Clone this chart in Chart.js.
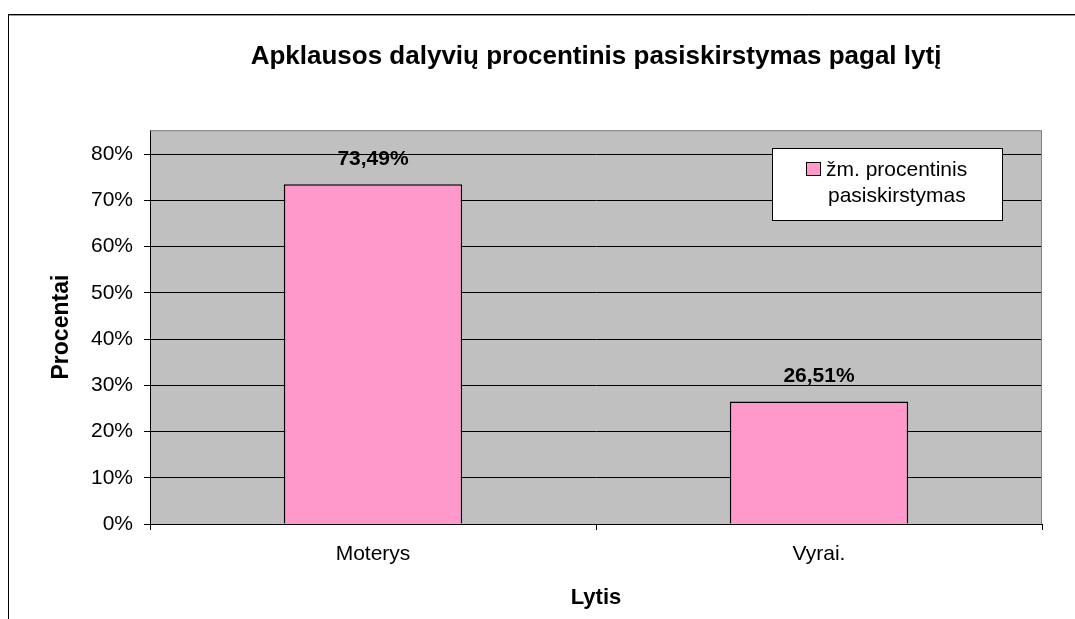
<!DOCTYPE html>
<html>
<head>
<meta charset="utf-8">
<script src="https://cdn.jsdelivr.net/npm/chart.js@4/dist/chart.umd.min.js"></script>
<style>
  body { margin: 0; background: #fff; }
  #wrap { width: 1075px; height: 619px; }
</style>
</head>
<body>
<div id="wrap"><canvas id="genderChart"></canvas></div>
<script>
const categories = ['Moterys', 'Vyrai.'];
const percents = [73.49, 26.51];
const valueLabels = ['73,49%', '26,51%'];
const legendLines = ['žm. procentinis', 'pasiskirstymas'];
const yTicks = [0, 10, 20, 30, 40, 50, 60, 70, 80];

const FONT = 'Arial, "Liberation Sans", sans-serif';

// white page, outer frame, grey plot area
const backdrop = {
    id: 'backdrop',
    beforeDraw(chart) {
        const { ctx, chartArea: a } = chart;
        ctx.save();
        ctx.fillStyle = '#fff';
        ctx.fillRect(0, 0, chart.width, chart.height);
        ctx.strokeStyle = '#000';
        ctx.lineWidth = 1;
        ctx.strokeRect(8.5, 14.5, chart.width + 20, chart.height + 20);
        ctx.strokeStyle = '#9a9a9a';
        ctx.beginPath();
        ctx.moveTo(9, 15.5);
        ctx.lineTo(chart.width, 15.5);
        ctx.stroke();
        ctx.fillStyle = '#c0c0c0';
        ctx.fillRect(a.left, a.top, a.right - a.left, a.bottom - a.top);
        ctx.restore();
    },
    afterDraw(chart) {
        const { ctx, chartArea: a } = chart;
        ctx.save();
        ctx.strokeStyle = '#808080';
        ctx.lineWidth = 1;
        ctx.beginPath();
        ctx.moveTo(a.left, a.top + 0.5);
        ctx.lineTo(a.right - 0.5, a.top + 0.5);
        ctx.lineTo(a.right - 0.5, a.bottom);
        ctx.stroke();
        ctx.restore();
    }
};

// value labels above bars and the boxed legend inside the plot
const extras = {
    id: 'extras',
    afterDatasetsDraw(chart) {
        const { ctx } = chart;
        const meta = chart.getDatasetMeta(0);
        ctx.save();
        ctx.fillStyle = '#000';
        ctx.font = 'bold 21px ' + FONT;
        ctx.textAlign = 'center';
        ctx.textBaseline = 'middle';
        meta.data.forEach((bar, i) => {
            ctx.fillText(valueLabels[i], bar.x, bar.y - 25);
        });

        const bx = 772, by = 148, bw = 230, bh = 72;
        ctx.fillStyle = '#fff';
        ctx.fillRect(bx, by, bw, bh);
        ctx.strokeStyle = '#000';
        ctx.lineWidth = 1;
        ctx.strokeRect(bx + 0.5, by + 0.5, bw, bh);
        ctx.fillStyle = chart.data.datasets[0].backgroundColor;
        ctx.fillRect(806, 162, 14, 13);
        ctx.strokeRect(806.5, 162.5, 14, 13);
        ctx.fillStyle = '#000';
        ctx.font = '21px ' + FONT;
        ctx.textAlign = 'left';
        ctx.textBaseline = 'alphabetic';
        ctx.fillText(legendLines[0], 826, 176);
        ctx.fillText(legendLines[1], 828, 202);
        ctx.restore();
    }
};

new Chart(document.getElementById('genderChart'), {
    type: 'bar',
    data: {
        labels: categories,
        datasets: [{
            label: legendLines.join(' '),
            data: percents,
            backgroundColor: '#ff99cc',
            borderColor: '#000',
            borderWidth: 1.5,
            barPercentage: 0.4,
            categoryPercentage: 1,
        }],
    },
    options: {
        responsive: true,
        maintainAspectRatio: false,
        animation: false,
        layout: { padding: { left: 0, right: 33, top: 0, bottom: 0 } },
        plugins: {
            legend: { display: false },
            tooltip: { enabled: false },
            title: {
                display: true,
                fullSize: false,
                text: 'Apklausos dalyvių procentinis pasiskirstymas pagal lytį',
                color: '#000',
                font: { family: FONT, size: 26, weight: 'bold' },
                padding: { top: 41, bottom: 58 },
            },
        },
        scales: {
            x: {
                grid: {
                    offset: true,
                    drawOnChartArea: false,
                    color: '#000',
                    tickLength: 6,
                },
                border: { color: '#000', width: 1 },
                ticks: {
                    color: '#000',
                    padding: 12,
                    font: { family: FONT, size: 21 },
                },
                title: {
                    display: true,
                    text: 'Lytis',
                    color: '#000',
                    font: { family: FONT, size: 22, weight: 'bold' },
                    padding: { top: 0, bottom: 8 },
                },
                afterFit(scale) { scale.height = 95; },
            },
            y: {
                min: 0,
                max: 85.2,
                afterBuildTicks(scale) {
                    scale.ticks = yTicks.map(v => ({ value: v }));
                },
                grid: {
                    color: '#000',
                    tickColor: '#000',
                    tickLength: 6,
                },
                border: { color: '#000', width: 1 },
                ticks: {
                    color: '#000',
                    padding: 11,
                    font: { family: FONT, size: 21 },
                    callback: v => v + '%',
                },
                title: {
                    display: true,
                    text: 'Procentai',
                    color: '#000',
                    font: { family: FONT, size: 23, weight: 'bold' },
                    padding: { top: 48, bottom: 0 },
                },
                afterFit(scale) { scale.width = 150; },
            },
        },
    },
    plugins: [backdrop, extras],
});
</script>
</body>
</html>
